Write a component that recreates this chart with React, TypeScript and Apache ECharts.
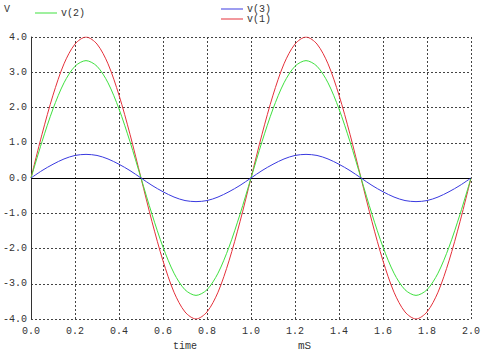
import React, { useEffect, useRef } from "react";
import * as echarts from "echarts";

const timeMs = [
  0.0, 0.05, 0.1, 0.15, 0.2, 0.25, 0.3, 0.35, 0.4, 0.45,
  0.5, 0.55, 0.6, 0.65, 0.7, 0.75, 0.8, 0.85, 0.9, 0.95,
  1.0, 1.05, 1.1, 1.15, 1.2, 1.25, 1.3, 1.35, 1.4, 1.45,
  1.5, 1.55, 1.6, 1.65, 1.7, 1.75, 1.8, 1.85, 1.9, 1.95, 2.0,
];

const v1 = [
  0, 1.24, 2.35, 3.24, 3.8, 4.0, 3.8, 3.24, 2.35, 1.24,
  0, -1.24, -2.35, -3.24, -3.8, -4.0, -3.8, -3.24, -2.35, -1.24,
  0, 1.24, 2.35, 3.24, 3.8, 4.0, 3.8, 3.24, 2.35, 1.24,
  0, -1.24, -2.35, -3.24, -3.8, -4.0, -3.8, -3.24, -2.35, -1.24, 0,
];

const v2 = [
  0, 1.03, 1.96, 2.7, 3.17, 3.33, 3.17, 2.7, 1.96, 1.03,
  0, -1.03, -1.96, -2.7, -3.17, -3.33, -3.17, -2.7, -1.96, -1.03,
  0, 1.03, 1.96, 2.7, 3.17, 3.33, 3.17, 2.7, 1.96, 1.03,
  0, -1.03, -1.96, -2.7, -3.17, -3.33, -3.17, -2.7, -1.96, -1.03, 0,
];

const v3 = [
  0, 0.21, 0.39, 0.54, 0.64, 0.67, 0.64, 0.54, 0.39, 0.21,
  0, -0.21, -0.39, -0.54, -0.64, -0.67, -0.64, -0.54, -0.39, -0.21,
  0, 0.21, 0.39, 0.54, 0.64, 0.67, 0.64, 0.54, 0.39, 0.21,
  0, -0.21, -0.39, -0.54, -0.64, -0.67, -0.64, -0.54, -0.39, -0.21, 0,
];

const seriesNames = ["v(1)", "v(2)", "v(3)"];
const seriesColors = ["#e4303a", "#3ee03e", "#3a3ae0"];

const FONT = "'Liberation Mono', 'DejaVu Sans Mono', monospace";
const TXT = "#333333";

export default function App() {
  const ref = useRef<HTMLDivElement>(null);

  useEffect(() => {
    if (!ref.current) return;
    const chart = echarts.init(ref.current, undefined, { renderer: "svg" });
    const pairs = (ys: number[]) => ys.map((y, i) => [timeMs[i], y]);
    const data = [v1, v2, v3];
    const gridLine = { show: true, lineStyle: { color: "#444", type: [2, 2] as any, width: 1 } };

    chart.setOption({
      animation: false,
      backgroundColor: "#ffffff",
      grid: { left: 31, right: 15, top: 37, bottom: 39 },
      xAxis: {
        type: "value",
        min: 0,
        max: 2,
        interval: 0.2,
        axisLine: { show: false },
        axisTick: { show: false },
        splitLine: gridLine,
        axisLabel: {
          color: TXT,
          fontFamily: FONT,
          fontSize: 10,
          margin: 7,
          formatter: (v: number) => v.toFixed(1),
        },
      },
      yAxis: {
        type: "value",
        min: -4,
        max: 4,
        interval: 1,
        axisLine: { show: true, lineStyle: { color: "#333", width: 1 } },
        axisTick: { show: false },
        splitLine: gridLine,
        axisLabel: {
          color: TXT,
          fontFamily: FONT,
          fontSize: 10,
          margin: 4,
          formatter: (v: number) => v.toFixed(1),
        },
      },
      legend: [
        {
          data: ["v(2)"],
          left: 30,
          top: 3,
          icon: "rect",
          itemWidth: 22,
          itemHeight: 1,
          itemGap: 4,
          textStyle: { fontFamily: FONT, fontSize: 10, color: TXT, padding: [0, 0, 0, -1] },
        },
        {
          data: ["v(3)", "v(1)"],
          orient: "vertical",
          left: 216,
          top: -1,
          icon: "rect",
          itemWidth: 22,
          itemHeight: 1,
          itemGap: 0,
          textStyle: { fontFamily: FONT, fontSize: 10, color: TXT, padding: [0, 0, 0, -1] },
        },
      ],
      graphic: [
        { type: "text", left: 4, top: 4, style: { text: "V", fontFamily: FONT, fontSize: 10, fill: TXT } },
        { type: "text", left: 173, top: 341, style: { text: "time", fontFamily: FONT, fontSize: 10, fill: TXT } },
        { type: "text", left: 298, top: 340, style: { text: "mS", fontFamily: FONT, fontSize: 11, fill: TXT } },
      ],
      series: seriesNames.map((name, i) => ({
        name,
        type: "line",
        data: pairs(data[i]),
        showSymbol: false,
        smooth: 0.3,
        color: seriesColors[i],
        lineStyle: { width: 1, color: seriesColors[i] },
        z: 3 + i,
        markLine:
          i === 0
            ? {
                silent: true,
                symbol: "none",
                label: { show: false },
                lineStyle: { color: "#000", type: "solid", width: 1 },
                data: [{ yAxis: 0 }],
              }
            : undefined,
      })),
    });
    return () => chart.dispose();
  }, []);

  return (
    <div
      ref={ref}
      style={{ position: "fixed", left: 0, top: 0, width: 486, height: 358, background: "#fff" }}
    />
  );
}
